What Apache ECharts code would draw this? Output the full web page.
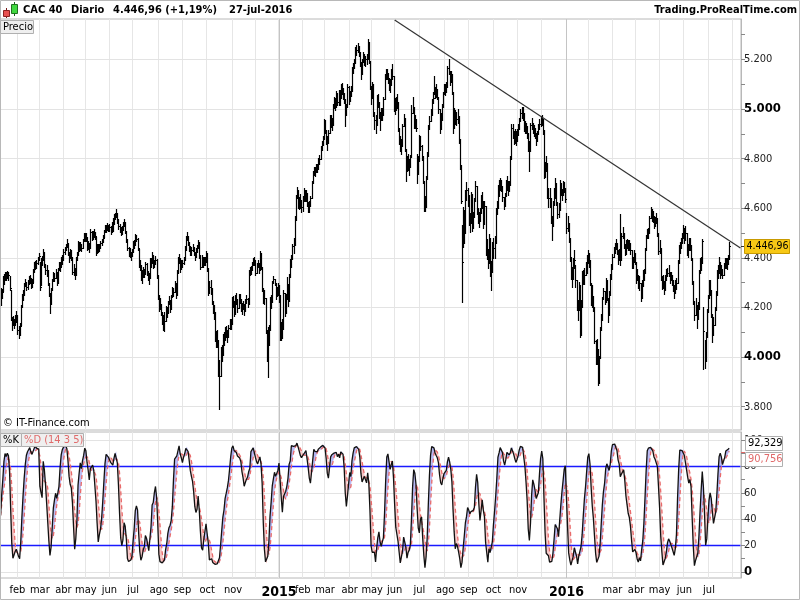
<!DOCTYPE html>
<html><head><meta charset="utf-8">
<script src="https://cdn.jsdelivr.net/npm/echarts@6/dist/echarts.min.js"></script>
<style>html,body{margin:0;padding:0;background:#fff}#c{width:800px;height:600px}</style>
</head><body><div id="c"></div>
<script>
// ---- daily closes, CAC 40, 13-jan-2014 .. 27-jul-2016 ----
const closes = [
// 2014 jan (from 13)
4240,4262,4318,4315,4332,4325,4336,4330,4280,4161,4130,4152,4130,4158,4165,
// feb
4110,4094,4125,4200,4245,4250,4290,4300,4282,4300,4310,4318,4290,4300,4346,4375,4370,4378,4395,4408,
// mar
4282,4390,4392,4420,4372,4350,4352,4300,4255,4215,4270,4305,4330,4318,4345,4300,4350,4372,4364,4396,4391,
// apr
4425,4432,4445,4458,4420,4400,4425,4405,4345,4355,4330,4395,4412,4460,4440,4450,4438,4470,4490,4487,
// may
4482,4442,4455,4440,4505,4480,4495,4500,4488,4425,4445,4440,4442,4458,4465,4482,4505,4522,4518,4528,4519,
// jun
4525,4512,4520,4540,4565,4570,4580,4552,4530,4520,4505,4518,4530,4545,4510,4475,4440,4425,4418,4410,4423,
// jul
4460,4455,4488,4478,4440,4375,4372,4330,4325,4352,4335,4375,4340,4330,4320,4390,4380,4410,4370,4378,4392,4330,4246,
// aug
4202,4212,4180,4148,4140,4145,4195,4178,4215,4230,4192,4242,4270,4262,4295,4252,4340,4392,4400,4355,4381,
// sep
4378,4392,4432,4478,4488,4462,4440,4428,4430,4445,4420,4405,4430,4440,4462,4410,4365,4400,4372,4390,4385,4416,
// oct
4358,4260,4282,4275,4225,4195,4180,4075,4070,4070,3940,3925,4030,4010,4085,4070,4110,4100,4080,4118,4140,4135,4233,
// nov
4222,4175,4240,4232,4198,4245,4235,4195,4200,4212,4185,4228,4235,4215,4335,4345,4352,4375,4388,4390,
// dec
4340,4370,4378,4350,4420,4365,4275,4232,4240,4108,4005,4060,4110,4233,4222,4298,4314,4300,4245,4272,4272,
// 2015 jan
4252,4083,4112,4115,4260,4179,4234,4294,4225,4323,4379,4395,4447,4451,4552,4640,4675,4618,4624,4628,4604,
// feb
4628,4670,4640,4660,4620,4600,4610,4640,4700,4740,4750,4745,4770,4760,4790,4800,4840,4860,4880,4950,
// mar
4917,4870,4866,4905,4964,4952,4935,5011,5030,5010,5061,5030,5050,5045,5090,5080,5060,5040,4975,5010,5090,5034,
// apr
5062,5074,5159,5165,5185,5240,5239,5250,5230,5185,5143,5190,5215,5190,5200,5200,5268,5195,5090,5046,
// may
5100,4985,4955,4935,5045,5030,4985,4960,4990,4975,5040,5130,5140,5140,5120,5095,5095,5150,5135,5007,
// jun
5010,5025,5030,4925,4880,4860,4850,4930,4965,4840,4760,4780,4790,4765,4805,4985,5010,4935,4950,4925,4740,4790,
// jul
4880,4850,4808,4711,4605,4604,4716,4810,4920,4950,4975,5030,5045,5080,5060,5075,5050,5000,4925,4955,5010,5060,5082,
// aug
5075,5090,5165,5155,5110,5140,5070,4925,4990,4955,4960,4970,4880,4775,4630,4383,4564,4501,4657,4675,4653,
// sep
4541,4541,4656,4522,4566,4631,4690,4590,4560,4550,4580,4640,4630,4535,4608,4420,4435,4380,4480,4342,4343,4455,
// oct
4440,4460,4590,4600,4680,4675,4700,4690,4645,4610,4650,4700,4700,4680,4695,4800,4925,4910,4875,4890,4880,4898,
// nov
4920,4950,4985,4990,4985,4920,4930,4920,4905,4845,4830,4935,4940,4920,4910,4905,4870,4900,4930,4940,4957,
// dec
4960,4910,4730,4756,4782,4650,4640,4640,4550,4530,4615,4640,4700,4625,4577,4593,4700,4663,4652,4700,4677,4637,
// 2016 jan
4522,4538,4480,4404,4333,4313,4380,4391,4312,4211,4190,4289,4130,4200,4336,4313,4330,4360,4380,4417,
// feb
4390,4300,4230,4240,4200,4066,3997,4034,3896,3995,4108,4150,4233,4265,4223,4310,4240,4170,4250,4315,4354,
// mar
4405,4428,4440,4456,4430,4390,4425,4390,4490,4500,4450,4432,4440,4462,4445,4450,4430,4370,4385,4420,4385,
// apr
4310,4330,4290,4300,4240,4300,4310,4340,4430,4480,4495,4500,4560,4580,4570,4570,4530,4550,4560,4500,4429,
// may
4440,4320,4290,4300,4270,4320,4330,4340,4345,4310,4330,4300,4290,4260,4300,4300,4380,4440,4440,4470,4480,4506,
// jun
4480,4500,4420,4430,4460,4450,4400,4306,4228,4170,4210,4153,4193,4340,4380,4380,4466,4106,3985,4080,4180,4237,
// jul (to 27)
4290,4270,4170,4130,4130,4190,4250,4340,4340,4385,4330,4350,4330,4370,4380,4380,4375,4394.7,4446.96
];
// daily high = close + highOffsets, low = close - lowOffsets
const highOffsets = [
40,12,8,20,10,18,12,15,45,110,30,15,25,10,20,
60,30,12,8,10,20,8,15,22,12,15,12,30,15,8,10,18,15,10,12,
100,8,15,15,50,25,20,50,45,42,10,10,12,22,10,45,8,12,20,8,20,
10,12,12,20,40,22,12,25,60,20,30,8,12,8,22,12,18,8,10,15,
20,42,12,20,12,30,12,15,18,60,10,15,15,10,12,10,8,10,15,12,15,
12,18,25,20,10,12,15,30,25,18,20,12,15,12,35,35,38,18,20,15,12,
8,15,8,15,40,62,20,40,25,10,22,10,40,18,20,8,18,12,40,15,15,65,85,
48,25,35,35,28,35,10,22,10,15,40,10,12,18,10,45,10,12,15,45,10,
15,12,15,10,16,28,25,18,15,12,25,18,10,12,8,52,45,10,30,12,18,10,
60,100,25,35,52,32,30,105,35,40,130,65,10,40,10,30,12,25,30,10,15,20,10,
25,50,10,25,35,10,18,40,20,15,28,8,15,25,15,20,15,10,12,15,
52,10,15,30,8,55,90,45,30,132,103,60,20,10,30,10,12,16,55,12,25,
40,169,30,40,10,81,20,30,70,10,15,15,10,30,15,12,10,57,20,30,30,
20,10,35,15,42,25,20,10,8,10,15,20,10,20,12,15,10,12,12,8,
40,45,25,10,10,25,30,10,20,35,10,35,25,30,10,25,25,25,65,12,10,60,
12,20,10,20,15,10,20,15,25,45,45,10,15,30,15,20,15,75,105,45,
10,115,35,40,10,30,45,30,15,30,10,10,20,20,25,30,25,12,45,128,
35,25,30,105,45,30,30,10,15,125,80,30,30,35,10,30,40,75,25,35,80,20,
15,40,45,100,106,45,15,15,15,20,25,10,25,55,30,25,30,50,75,30,10,10,20,
25,20,10,45,45,15,70,145,15,40,30,30,90,105,145,150,40,90,15,30,30,
112,40,10,134,20,10,20,100,40,35,20,15,35,95,20,188,40,55,15,138,45,10,
40,30,10,30,15,40,20,25,45,35,10,12,30,30,15,10,15,30,35,30,30,20,
20,15,15,18,25,65,20,25,25,60,40,10,25,25,25,20,35,12,10,18,15,
15,50,185,30,30,132,40,40,90,40,15,40,20,75,50,30,12,40,25,10,30,45,
60,30,60,76,71,50,20,40,60,101,40,15,160,30,10,40,30,25,30,15,
30,90,70,50,45,134,70,40,138,10,15,25,10,15,45,10,70,70,15,20,20,
10,15,20,20,30,40,10,185,10,25,50,25,30,15,25,20,30,60,20,10,35,
75,25,40,25,60,10,40,15,10,12,20,20,10,25,25,20,40,15,20,60,71,
30,120,35,30,35,10,25,20,25,35,15,30,20,30,10,20,10,10,25,12,20,26,
40,30,80,25,20,30,50,94,78,58,30,57,30,10,20,25,10,94,85,20,15,15,
20,40,100,45,30,10,15,10,30,20,55,20,25,10,20,20,25,15,17
];
const lowOffsets = [
30,25,50,22,20,15,18,20,10,10,20,22,12,25,22,
15,17,35,70,45,20,40,15,12,25,15,18,10,18,45,30,15,20,20,18,
10,100,20,25,10,15,25,10,10,38,55,35,25,12,25,10,50,20,15,30,15,
35,15,15,15,10,15,25,12,10,25,15,65,20,48,12,20,12,32,22,18,
15,10,20,15,65,10,20,15,12,12,25,15,15,18,12,18,22,18,12,15,12,
15,15,15,30,30,12,15,10,15,15,12,20,18,18,10,10,10,18,15,20,15,
38,15,35,12,10,10,22,20,25,30,12,40,10,20,25,70,15,30,10,15,15,10,12,
15,20,12,15,30,40,50,15,37,18,12,50,28,15,33,12,88,52,20,10,26,
15,18,40,46,18,10,12,15,18,18,10,15,25,15,22,10,10,35,10,18,15,31,
10,10,25,20,10,18,25,10,30,30,15,136,105,25,75,20,40,20,20,38,25,20,98,
20,10,65,20,15,47,15,10,25,20,15,43,18,12,120,15,18,23,15,20,
10,30,15,12,70,10,10,15,25,10,20,141,60,123,25,76,16,10,10,27,20,
30,15,45,40,145,15,55,60,20,98,56,30,52,30,101,88,35,15,25,25,20,
40,42,10,30,10,15,25,30,60,40,15,15,25,12,30,20,40,25,25,70,
15,10,30,40,59,25,20,76,25,15,51,12,35,30,45,20,20,15,45,35,80,12,
28,20,85,20,20,55,20,20,15,10,20,47,25,12,25,20,68,10,10,25,
54,15,35,30,110,20,20,45,35,20,65,90,20,20,15,20,25,55,15,15,
30,30,25,15,20,30,30,80,35,10,50,30,35,30,40,180,25,10,25,15,40,50,
90,15,15,10,15,15,112,94,110,30,25,55,20,20,15,25,10,15,20,35,55,50,22,
20,20,75,15,15,30,10,20,65,15,25,25,15,15,10,160,120,40,156,40,45,
10,35,115,15,44,65,59,15,20,25,30,60,30,15,73,10,40,20,100,15,73,112,
40,60,130,25,80,25,25,20,15,15,40,50,25,25,25,105,125,25,15,25,25,25,
25,30,35,25,30,10,25,15,20,15,80,105,20,15,20,20,15,30,30,20,25,
25,10,10,30,30,10,35,35,10,60,85,25,60,10,15,30,107,10,20,48,12,10,
20,30,15,15,20,30,67,30,30,20,40,99,50,110,136,20,35,30,40,37,
25,10,20,40,15,10,25,60,10,99,113,42,83,32,10,87,10,30,80,65,39,
51,23,20,20,15,15,35,20,100,20,10,20,25,22,15,20,15,10,25,35,10,
10,20,10,30,15,60,25,30,90,50,15,20,60,20,20,25,10,20,20,10,15,
20,10,15,20,15,50,20,15,20,10,20,10,25,20,40,25,80,60,20,30,20,20,
20,30,10,25,30,20,10,10,15,20,40,35,40,147,40,30,86,156,30,95,100,57,
53,20,10,70,40,60,60,90,20,45,10,20,10,40,20,20,20,20,52
];

// ---- calendar / axes ----
const startDate = [2014, 0, 13];
const totalSlots = 660;               // trading-day slots on the time axis (data + right margin)
const holidays = ['2014-04-18','2014-04-21','2014-05-01','2014-12-25','2014-12-26',
  '2015-01-01','2015-04-03','2015-04-06','2015-05-01','2015-12-25',
  '2016-01-01','2016-03-25','2016-03-28'];
const monthNames = ['ene','feb','mar','abr','may','jun','jul','ago','sep','oct','nov','dic'];
const hiddenMonthLabels = ['2014-12','2015-12','2016-02','2016-08'];
const priceTicks = [3800,4000,4200,4400,4600,4800,5000,5200];
const priceMinorTicks = [3800,3900,4000,4100,4200,4300,4400,4500,4600,4700,4800,4900,5000,5100,5200,5300];
const stochTicks = [0,20,40,60,80,100];
const stochMinorTicks = [0,10,20,30,40,50,60,70,80,90,100];
const stochBands = [20,80];
const trendline = [[351,5359],[659,4440]];   // [trading-day index, price]
const stochParams = [14,3,5];
const lastK = 92.329, lastD = 90.756;         // values printed on the reference

const FONT = '"DejaVu Sans Condensed","DejaVu Sans",sans-serif';

function buildDates(){
  const out = [];
  const d = new Date(Date.UTC(startDate[0], startDate[1], startDate[2]));
  while (out.length < totalSlots){
    const wd = d.getUTCDay();
    const s = d.toISOString().slice(0,10);
    if (wd !== 0 && wd !== 6 && holidays.indexOf(s) < 0) out.push(s);
    d.setUTCDate(d.getUTCDate()+1);
  }
  return out;
}
const dates = buildDates();
const monthStarts = new Set(), yearStarts = [], labelSet = new Set();
for (let i = 1; i < dates.length; i++){
  if (dates[i].slice(0,7) !== dates[i-1].slice(0,7)){
    monthStarts.add(i);
    if (dates[i].slice(5,7) === '01') yearStarts.push(i);
    if (hiddenMonthLabels.indexOf(dates[i].slice(0,7)) < 0) labelSet.add(i);
  }
}

// ---- stochastic %K / %D from the price bars ----
const n = closes.length;
const highs = closes.map((c,i)=>c+highOffsets[i]);
const lows = closes.map((c,i)=>c-lowOffsets[i]);
const raw = [];
for (let i=0;i<n;i++){
  let hh=-Infinity, ll=Infinity;
  for (let j=Math.max(0,i-stochParams[0]+1); j<=i; j++){ hh=Math.max(hh,highs[j]); ll=Math.min(ll,lows[j]); }
  raw.push(hh>ll ? (closes[i]-ll)/(hh-ll)*100 : 50);
}
const avg = (arr,i,p)=>{ let s=0,c=0; for(let j=Math.max(0,i-p+1);j<=i;j++){s+=arr[j];c++;} return s/c; };
const K = raw.map((v,i)=>avg(raw,i,stochParams[1]));
const D = K.map((v,i)=>avg(K,i,stochParams[2]));

const fmtInt = v => { const s = String(Math.round(v)); return s.length>3 ? s.slice(0,-3)+'.'+s.slice(-3) : s; };
const fmtPrice = v => { const p = v.toFixed(2).split('.'); return fmtInt(+p[0]) + ',' + p[1]; };

const priceData = closes.map((c,i)=>[i, c, highs[i], lows[i]]);
const fillData = [];
for (let i=0;i<n-1;i++) fillData.push([i, K[i], D[i], K[i+1], D[i+1]]);

const chart = echarts.init(document.getElementById('c'), null, {width:800, height:600});
const splitLineX = {show:true, interval:(i)=>monthStarts.has(i), lineStyle:{color:'#e6e6e6', width:1}};
const gridMark = (vals, color, w) => vals.map(v=>({yAxis:v, lineStyle:{color:color, width:w, type:'solid'}}));
const lastSlot = totalSlots - 1;

chart.setOption({
  animation:false,
  backgroundColor:'#fff',
  textStyle:{fontFamily:FONT},
  grid:[
    {left:0, top:19, width:741, height:411, show:true, borderColor:'#b8b8b8', borderWidth:1},
    {left:0, top:432, width:741, height:146, show:true, borderColor:'#b8b8b8', borderWidth:1}
  ],
  xAxis:[
    {type:'category', gridIndex:0, data:dates, boundaryGap:true,
     axisLine:{show:false}, axisTick:{show:false}, axisLabel:{show:false}, splitLine:splitLineX},
    {type:'category', gridIndex:1, data:dates, boundaryGap:true,
     axisLine:{show:false, onZero:false}, axisTick:{show:false}, splitLine:splitLineX,
     axisLabel:{interval:(i)=>labelSet.has(i), margin:7, color:'#000', fontSize:11, fontFamily:FONT,
       formatter:(v)=> v.slice(5,7)==='01' ? '{y|'+v.slice(0,4)+'}' : monthNames[+v.slice(5,7)-1],
       rich:{y:{fontWeight:'bold', fontSize:14, fontFamily:FONT, color:'#000'}}}}
  ],
  yAxis:[
    {type:'value', gridIndex:0, position:'right', min:3706, max:5363,
     axisLine:{show:true, lineStyle:{color:'#b8b8b8'}},
     axisTick:{show:true, length:4, customValues:priceMinorTicks, lineStyle:{color:'#888'}},
     axisLabel:{customValues:priceTicks, margin:3, color:'#222', fontSize:11, fontFamily:FONT,
       formatter:(v)=> v%1000===0 ? '{b|'+fmtInt(v)+'}' : fmtInt(v),
       rich:{b:{fontWeight:'bold', fontSize:13, fontFamily:FONT, color:'#000'}}},
     splitLine:{show:false}},
    {type:'value', gridIndex:1, position:'right', min:-4.68, max:106.2,
     axisLine:{show:true, lineStyle:{color:'#b8b8b8'}},
     axisTick:{show:true, length:4, customValues:stochMinorTicks, lineStyle:{color:'#888'}},
     axisLabel:{customValues:stochTicks, margin:3, color:'#222', fontSize:11, fontFamily:FONT,
       formatter:(v)=> v===0 ? '{b|0}' : String(v),
       rich:{b:{fontWeight:'bold', fontSize:13, fontFamily:FONT, color:'#000'}}},
     splitLine:{show:false}}
  ],
  series:[
    {type:'line', xAxisIndex:0, yAxisIndex:0, data:[], silent:true, z:1,
     markLine:{silent:true, z:1, symbol:['none','none'], label:{show:false}, animation:false,
       data: gridMark(priceTicks,'#e3e3e3',1).concat(yearStarts.map(i=>({xAxis:i, lineStyle:{color:'#c4c4c4', width:1, type:'solid'}})))}},
    {type:'custom', name:'CAC 40', xAxisIndex:0, yAxisIndex:0, data:priceData, z:3, clip:true,
     encode:{x:0, y:[1,2,3]},
     renderItem:(params, api)=>{
       const i = api.value(0);
       const h = api.coord([i, api.value(2)]), l = api.coord([i, api.value(3)]), c = api.coord([i, api.value(1)]);
       const x = Math.round(h[0]) + 0.5, yc = Math.round(c[1]) + 0.5;
       return {type:'group', children:[
         {type:'line', shape:{x1:x, y1:Math.round(h[1]), x2:x, y2:Math.round(l[1])+1}, style:{stroke:'#000', lineWidth:1.2}},
         {type:'line', shape:{x1:x, y1:yc, x2:x+1.5, y2:yc}, style:{stroke:'#000', lineWidth:1}}
       ]};
     }},
    {type:'line', xAxisIndex:0, yAxisIndex:0, data:trendline, symbol:'none', silent:true, z:4, clip:true,
     lineStyle:{color:'#333', width:1.2}},
    {type:'line', xAxisIndex:1, yAxisIndex:1, data:[], silent:true, z:1,
     markLine:{silent:true, z:1, symbol:['none','none'], label:{show:false}, animation:false,
       data: gridMark(stochTicks,'#e3e3e3',1)
             .concat(yearStarts.map(i=>({xAxis:i, lineStyle:{color:'#c4c4c4', width:1, type:'solid'}})))}},
    {type:'custom', xAxisIndex:1, yAxisIndex:1, data:fillData, z:2, clip:true, silent:true,
     encode:{x:0, y:[1,2]},
     renderItem:(params, api)=>{
       const i = api.value(0);
       const a = api.coord([i, api.value(1)]), b = api.coord([i+1, api.value(3)]);
       const c = api.coord([i+1, api.value(4)]), d = api.coord([i, api.value(2)]);
       const up = api.value(1)+api.value(3) >= api.value(2)+api.value(4);
       return {type:'polygon', shape:{points:[a,b,c,d]},
               style:{fill: up ? 'rgba(115,115,230,0.55)' : 'rgba(235,125,125,0.45)'}};
     }}
  ].concat(stochBands.map(v=>({
     type:'line', xAxisIndex:1, yAxisIndex:1, silent:true, z:3, symbol:'none',
     data:[[0, v],[lastSlot, v]], lineStyle:{color:'#1a1aff', width:1.5}
  }))).concat([
    {type:'line', name:'%D', xAxisIndex:1, yAxisIndex:1, data:D, symbol:'none', silent:true, z:4,
     lineStyle:{color:'#e86a6a', width:1.3, type:[4,3]}},
    {type:'line', name:'%K', xAxisIndex:1, yAxisIndex:1, data:K, symbol:'none', silent:true, z:5,
     lineStyle:{color:'#111', width:1.3}}
  ])
});

// ---- overlay texts / value tags ----
const last = closes[n-1], prev = closes[n-2];
const pct = ((last/prev-1)*100).toFixed(2).replace('.',',');
const lastDate = dates[n-1];
const headerDate = (+lastDate.slice(8,10)) + '-' + monthNames[+lastDate.slice(5,7)-1] + '-' + lastDate.slice(0,4);
const yLast = chart.convertToPixel({yAxisIndex:0}, last);
const yK = chart.convertToPixel({yAxisIndex:1}, lastK);
const yD = chart.convertToPixel({yAxisIndex:1}, lastD);
const t = (x,y,text,opt)=>Object.assign({type:'text', x:x, y:y, z:100, style:Object.assign({text:text, fill:'#000', font:'11px '+FONT, textVerticalAlign:'middle'}, opt||{})});
const r = (x,y,w,h,fill,stroke)=>({type:'rect', z:99, shape:{x:x,y:y,width:w,height:h}, style:{fill:fill, stroke:stroke||null, lineWidth:1}});
const HB = 'bold 11px '+FONT;

chart.setOption({graphic:[
  {type:'rect', z:98, shape:{x:0.5,y:0.5,width:799,height:599}, style:{fill:null, stroke:'#b8b8b8', lineWidth:1}},
  // header icon
  {type:'line', z:99, shape:{x1:6.5,y1:8,x2:6.5,y2:18}, style:{stroke:'#7a1a1a'}},
  r(3.5,10.5,6,6,'#e85050','#8a2020'),
  {type:'line', z:99, shape:{x1:14.5,y1:2,x2:14.5,y2:16}, style:{stroke:'#1a6a1a'}},
  r(11.5,4.5,6,9,'#40d840','#207020'),
  t(23,10,'CAC 40',{font:HB}),
  t(71,10,'Diario',{font:HB}),
  t(113,10,fmtPrice(last)+' (+'+pct+'%)',{font:HB}),
  t(229,10,headerDate,{font:HB}),
  t(797,10,'Trading.ProRealTime.com',{font:HB, textAlign:'right'}),
  // panel captions
  r(0.5,20.5,33,13,'#efefef','#b0b0b0'),
  t(3,27.5,'Precio'),
  t(3,423,'© IT-Finance.com'),
  r(0.5,433.5,21,13,'#efefef','#b0b0b0'),
  t(3,440.5,'%K'),
  r(21.5,433.5,62,13,'#efefef','#b0b0b0'),
  t(24,440.5,'%D (14 3 5)',{fill:'#e06a6a'}),
  // last price tag
  {type:'line', z:99, shape:{x1:741,y1:Math.round(yLast)+0.5,x2:745,y2:Math.round(yLast)+0.5}, style:{stroke:'#333'}},
  r(744.5,Math.round(yLast)-6.5,45,14,'#f7c815','#c89a00'),
  t(746.5,Math.round(yLast)+0.5,fmtPrice(last),{font:'10.5px '+FONT}),
  // stochastic tags
  {type:'line', z:99, shape:{x1:741,y1:Math.round(yD)+0.5,x2:745,y2:Math.round(yD)+0.5}, style:{stroke:'#e06a6a'}},
  r(745.5,Math.round(yK)-13.5,37,14,'#fff','#b0b0b0'),
  t(748,Math.round(yK)-6.5,lastK.toFixed(3).replace('.',','),{font:'11px '+FONT}),
  r(745.5,Math.round(yD)+0.5,37,14,'#fff','#b0b0b0'),
  t(748,Math.round(yD)+7.5,lastD.toFixed(3).replace('.',','),{fill:'#e06a6a', font:'11px '+FONT})
]});
</script>
</body></html>
